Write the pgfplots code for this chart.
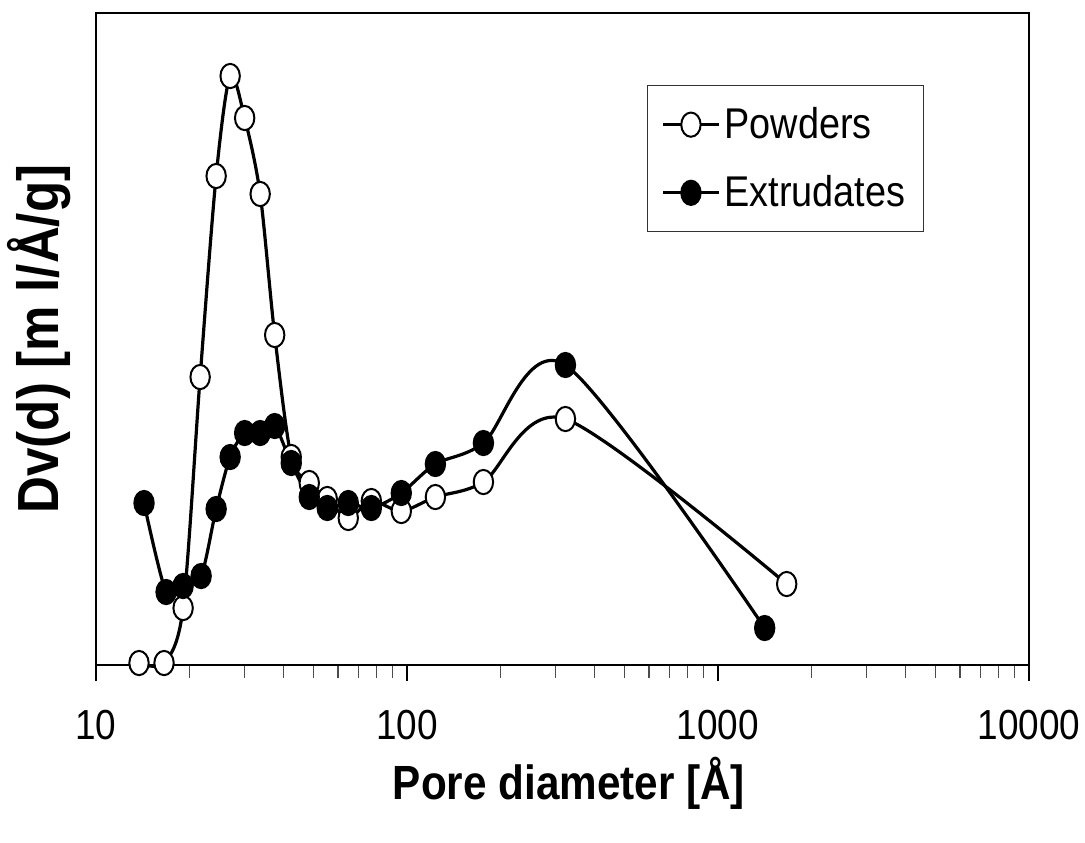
\documentclass[border=0pt]{standalone}
\usepackage{fontspec}
\setmainfont{Liberation Sans}[FakeStretch=0.88]
\usepackage{pgfplots}
\usepackage{pgfplotstable}
\pgfplotsset{compat=1.18}

% pore size distributions (y in arbitrary units)
\pgfplotstableread{
d      dv
13.75  2
16.55  2
19.06  57
21.62  288
24.34  489
27.00  589
30.06  547
33.72  471
37.55  330
42.44  208
48.50  182
55.41  166
64.74  147
76.80  164
95.87  154
123.4  168
176.1  183
323.2  246
1663   81
}\powders

\pgfplotstableread{
d      dv
14.27  162
16.80  73
19.06  79
21.78  89
24.34  156
27.00  208
30.06  232
33.72  232
37.55  239
42.44  202
48.50  168
55.41  157
64.74  162
76.80  157
95.87  172
123.4  201
176.1  222
323.2  300
1413   37
}\extrudates

\begin{document}
\begin{tikzpicture}
\begin{axis}[
    scale only axis,
    width=466.5pt, height=326pt,
    xmode=log,
    xmin=10, xmax=10000,
    ymin=0, ymax=652,
    clip=false,
    axis line style={line width=1pt},
    ytick=\empty,
    xtick={10,100,1000,10000},
    xticklabels={10,100,1000,10000},
    xtick pos=bottom,
    tick align=outside,
    major tick length=8pt,
    minor tick length=6.5pt,
    tick style={line width=0.8pt, black},
    minor tick style={line width=0.6pt, black!70},
    xticklabel style={font=\fontsize{21}{24}\selectfont, yshift=-11pt},
    xlabel={Pore diameter [Å]},
    xlabel style={font=\fontsize{24}{28}\selectfont\bfseries,
                  at={(axis description cs:0.507,-0.182)}, anchor=center},
    ylabel={Dv(d) [m l/Å/g]},
    ylabel style={font=\fontsize{29}{32}\selectfont\bfseries,
                  at={(axis description cs:-0.061,0.5)}, anchor=center},
    legend style={at={(0.8875,0.8896)}, anchor=north east,
                  draw=black!80, line width=0.6pt,
                  font=\fontsize{21.5}{25}\selectfont,
                  inner xsep=7pt, inner ysep=9pt, row sep=13pt},
    legend cell align=left,
    legend image code/.code={%
      \draw[mark repeat=2, mark phase=2]
        plot coordinates {(0pt,0pt) (14pt,0pt) (28pt,0pt)};},
    every axis plot/.append style={line width=1.6pt, smooth, tension=0.5},
]
  \addplot[black, mark=*, mark size=4.85pt,
           mark options={fill=white, line width=1pt, yscale=1.25}]
    table[x=d, y=dv] {\powders};
  \addplot[black, mark=*, mark size=4.85pt,
           mark options={fill=black, line width=1pt, yscale=1.25}]
    table[x=d, y=dv] {\extrudates};
  \legend{Powders, Extrudates}
\end{axis}
\pgfresetboundingbox
\path[use as bounding box]
  ([xshift=-48pt, yshift=-88.5pt]current axis.south west)
  rectangle ([xshift=28pt, yshift=6.5pt]current axis.north east);
\end{tikzpicture}
\end{document}
